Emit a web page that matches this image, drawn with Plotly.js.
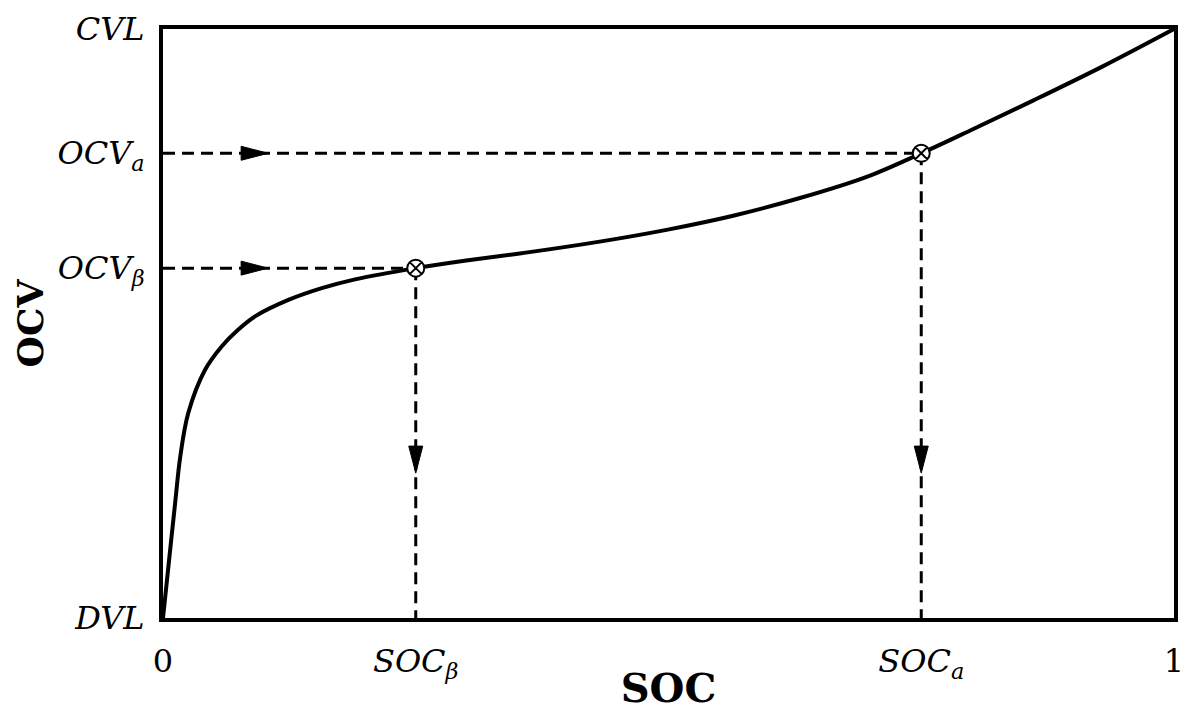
<!DOCTYPE html>
<html>
<head>
<meta charset="utf-8">
<script src="https://cdn.plot.ly/plotly-3.0.1.min.js"></script>
<style>html,body{margin:0;padding:0;background:#fff;}#chart{width:1186px;height:711px;}</style>
</head>
<body>
<div id="chart"></div>
<script>
// OCV–SOC curve (normalised: SOC 0..1, OCV DVL=0..CVL=1)
const socValues = [0, 0.005, 0.012, 0.017, 0.025, 0.0415, 0.058, 0.074, 0.091, 0.124, 0.157, 0.19, 0.25, 0.30, 0.366, 0.432, 0.498, 0.564, 0.63, 0.696, 0.75, 0.80, 0.86, 0.93, 1];
const ocvValues = [0, 0.082, 0.195, 0.273, 0.348, 0.421, 0.461, 0.489, 0.512, 0.540, 0.560, 0.575, 0.594, 0.607, 0.622, 0.639, 0.659, 0.683, 0.713, 0.749, 0.789, 0.829, 0.878, 0.937, 1];

// Operating points
const pointNames = ["β", "a"];
const pointSOC = [0.25, 0.75];
const pointOCV = [0.594, 0.789];

// Arrow tip positions along the guide lines
const hArrowTipSOC = [0.104, 0.104];
const vArrowTipOCV = [0.246, 0.246];

// Tick labels
const xTickVals = [0, pointSOC[0], pointSOC[1], 1];
const xTickText = ["0", "<i>SOC</i><sub><i>β</i></sub>", "<i>SOC</i><sub><i>a</i></sub>", "1"];
const yTickVals = [0, pointOCV[0], pointOCV[1], 1];
const yTickText = ["<i>DVL</i>", "<i>OCV</i><sub><i>β</i></sub>", "<i>OCV</i><sub><i>a</i></sub>", "<i>CVL</i>"];

const M = {l: 163, r: 12, t: 29, b: 93};
const W = 1186, H = 711;
const pw = W - M.l - M.r, ph = H - M.t - M.b;
const headLen = 27, headHalf = 7;
const dxLen = headLen / pw, dyHalf = headHalf / ph;
const dyLen = headLen / ph, dxHalf = headHalf / pw;

const traces = [];
const dashStyle = {color: "black", width: 3, dash: "12px,7px"};
for (let i = 0; i < pointSOC.length; i++) {
  traces.push({x: [0, pointSOC[i]], y: [pointOCV[i], pointOCV[i]], mode: "lines", line: dashStyle, hoverinfo: "skip"});
  traces.push({x: [pointSOC[i], pointSOC[i]], y: [pointOCV[i], 0], mode: "lines", line: dashStyle, hoverinfo: "skip"});
  const tx = hArrowTipSOC[i], ty = pointOCV[i];
  traces.push({x: [tx, tx - dxLen, tx - dxLen, tx], y: [ty, ty + dyHalf, ty - dyHalf, ty], mode: "lines", fill: "toself", fillcolor: "black", line: {color: "black", width: 1}, hoverinfo: "skip"});
  const vx = pointSOC[i], vy = vArrowTipOCV[i];
  traces.push({x: [vx, vx - dxHalf, vx + dxHalf, vx], y: [vy, vy + dyLen, vy + dyLen, vy], mode: "lines", fill: "toself", fillcolor: "black", line: {color: "black", width: 1}, hoverinfo: "skip"});
}
traces.push({x: socValues, y: ocvValues, mode: "lines", line: {color: "black", width: 4, shape: "spline", smoothing: 1}, hoverinfo: "skip", cliponaxis: false});
traces.push({x: pointSOC, y: pointOCV, text: pointNames, mode: "markers", marker: {symbol: "circle-x", size: 17, color: "white", line: {color: "black", width: 2}}, hoverinfo: "skip", cliponaxis: false});

const tickFont = {family: "DejaVu Serif", size: 32, color: "black"};
const layout = {
  width: W, height: H,
  margin: M,
  paper_bgcolor: "white", plot_bgcolor: "white",
  showlegend: false,
  xaxis: {
    range: [0, 1], showgrid: false, zeroline: false,
    showline: true, mirror: true, linecolor: "black", linewidth: 4,
    tickmode: "array", tickvals: xTickVals, ticktext: xTickText,
    ticks: "outside", ticklen: 12, tickcolor: "rgba(0,0,0,0)",
    tickfont: tickFont,
    title: {text: "<b>SOC</b>", font: {family: "DejaVu Serif", size: 40, color: "black"}, standoff: 0}
  },
  yaxis: {
    range: [0, 1], showgrid: false, zeroline: false,
    showline: true, mirror: true, linecolor: "black", linewidth: 4,
    tickmode: "array", tickvals: yTickVals, ticktext: yTickText,
    ticks: "outside", ticklen: 8, tickcolor: "rgba(0,0,0,0)",
    tickfont: tickFont,
    title: {text: "<b>OCV</b>", font: {family: "DejaVu Serif", size: 36, color: "black"}, standoff: 4}
  }
};
Plotly.newPlot("chart", traces, layout, {staticPlot: true});
</script>
</body>
</html>
